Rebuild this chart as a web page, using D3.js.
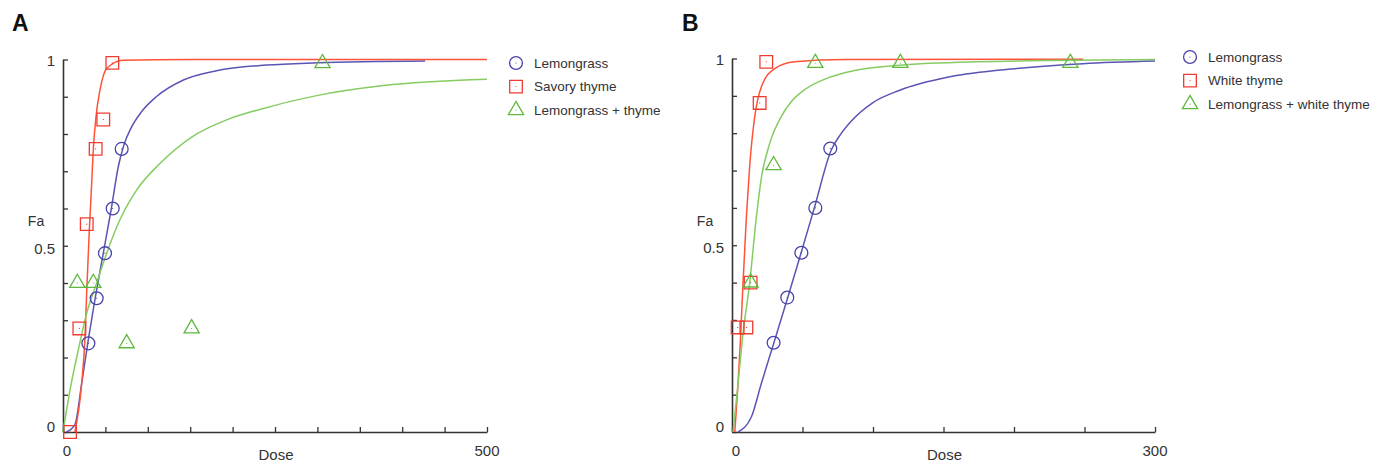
<!DOCTYPE html>
<html>
<head>
<meta charset="utf-8">
<script src="https://cdn.jsdelivr.net/npm/d3@7"></script>
<style>
  body { margin: 0; background: #fff; }
  svg { display: block; font-family: "Liberation Sans", Arial, sans-serif; }
</style>
</head>
<body>
<svg id="chart" width="1373" height="464"></svg>
<script>
// ---- data ----
// Panel A: lemongrass / savory thyme / mix
const namesA = ["Lemongrass", "Savory thyme", "Lemongrass + thyme"];
const pointsLemonA = [[29.9, 0.238], [39.7, 0.359], [49.5, 0.48], [58.6, 0.60], [69.2, 0.76]];
const pointsThymeA = [[8.3, 0], [19.3, 0.278], [28, 0.558], [38.5, 0.76], [47.5, 0.839], [58.2, 0.991]];
const pointsMixA = [[16.9, 0.40], [35.7, 0.40], [75.1, 0.238], [151.7, 0.278], [306, 0.99]];
const curveLemonA = [[4, 0], [14, 0.02], [22, 0.13], [30, 0.25], [38, 0.36], [47.5, 0.48], [57, 0.6],
  [65, 0.71], [72, 0.772], [80, 0.815], [92, 0.858], [110, 0.9], [142, 0.945], [181, 0.97], [240, 0.985], [300, 0.991], [427, 0.996]];
const curveThymeA = [[14, 0], [22, 0.13], [26, 0.256], [28, 0.38], [31, 0.54], [33.8, 0.667], [35.7, 0.757],
  [38.9, 0.846], [43.6, 0.918], [51.5, 0.976], [71, 0.998], [150, 1], [500, 1]];
const curveMixA = [[0, 0], [8.3, 0.113], [18, 0.22], [28, 0.319], [39.7, 0.4], [51.5, 0.48], [67, 0.569],
  [87, 0.65], [114, 0.72], [154, 0.795], [193, 0.838], [232, 0.866], [299, 0.903], [378, 0.93], [500, 0.947]];

// Panel B: lemongrass / white thyme / mix
const namesB = ["Lemongrass", "White thyme", "Lemongrass + white thyme"];
const pointsLemonB = [[29.5, 0.239], [39.2, 0.36], [49.2, 0.48], [59.1, 0.60], [69.7, 0.759]];
const pointsThymeB = [[4, 0.28], [10.2, 0.28], [13.2, 0.40], [19.6, 0.881], [24.3, 0.991]];
const pointsMixB = [[13.2, 0.40], [29.5, 0.714], [59.1, 0.988], [119.4, 0.988], [240, 0.988]];
const curveLemonB = [[4.3, 0], [13.7, 0.04], [20.8, 0.13], [30.3, 0.246], [39.7, 0.362], [49.2, 0.482],
  [58.6, 0.603], [70.4, 0.755], [77, 0.797], [84, 0.83], [100, 0.882], [119, 0.915], [154.6, 0.951], [202, 0.973], [249, 0.986], [300, 0.993]];
const curveThymeB = [[2, 0], [4.3, 0.13], [6.1, 0.255], [7.8, 0.398], [10.2, 0.576], [12.5, 0.71], [16.1, 0.844],
  [20.8, 0.924], [30.3, 0.973], [44.4, 0.991], [80, 0.997], [249, 0.998]];
const curveMixB = [[0.7, 0], [4.3, 0.13], [7.8, 0.264], [12.5, 0.398], [17.3, 0.576], [20.8, 0.68], [26.7, 0.772],
  [35, 0.845], [42, 0.884], [49.2, 0.91], [68, 0.948], [87, 0.968], [119, 0.982], [173.5, 0.991], [300, 0.997]];

const yTicks = d3.range(0, 1.0001, 0.1);
const yLabels = [0, 0.5, 1];

const lineColors = ["#5a55b4", "#ff5238", "#86cc62"];
const markColors = ["#4743a8", "#ef3b30", "#5fb83f"];
const markTypes = [d3.symbolCircle, d3.symbolSquare, d3.symbolTriangle];
const markSizes = [130, 160, 100];

const panels = [
  { letter: "A", names: namesA, doseMax: 500,
    points: [pointsLemonA, pointsThymeA, pointsMixA],
    curves: [curveLemonA, curveThymeA, curveMixA],
    left: 63, right: 487, top: 59.5, bottom: 432,
    letterX: 12, legX: 516, legY: 63, legGap: 23.6 },
  { letter: "B", names: namesB, doseMax: 300,
    points: [pointsLemonB, pointsThymeB, pointsMixB],
    curves: [curveLemonB, curveThymeB, curveMixB],
    left: 732, right: 1155, top: 58.5, bottom: 432,
    letterX: 682, legX: 1190, legY: 57, legGap: 23.6 }
];

const svg = d3.select("#chart");

function drawPanel(p) {
  const x = d3.scaleLinear().domain([0, p.doseMax]).range([p.left, p.right]);
  const y = d3.scaleLinear().domain([0, 1]).range([p.bottom, p.top]);
  const g = svg.append("g");

  // panel letter
  g.append("text").attr("x", p.letterX).attr("y", 31)
    .attr("font-size", 23).attr("font-weight", "bold").attr("fill", "#111")
    .text(p.letter);

  // axes, ticks pointing inside
  const xAxis = d3.axisBottom(x).tickValues(d3.range(0, p.doseMax + 1, 50))
    .tickSizeInner(-5).tickSizeOuter(0).tickFormat("");
  const yAxis = d3.axisLeft(y).tickValues(yTicks)
    .tickSizeInner(-5).tickSizeOuter(0).tickFormat("");
  [g.append("g").attr("transform", `translate(0,${p.bottom})`).call(xAxis),
   g.append("g").attr("transform", `translate(${p.left},0)`).call(yAxis)]
    .forEach(a => {
      a.select(".domain").attr("stroke", "#333").attr("stroke-width", 1.6);
      a.selectAll(".tick line").attr("stroke", "#333").attr("stroke-width", 1.3);
    });

  // tick labels
  g.selectAll(".ylab").data(yLabels).join("text")
    .attr("x", p.left - 8)
    .attr("y", d => y(d) + (d === 0 ? 0 : d === 1 ? 6 : 8))
    .attr("text-anchor", "end").attr("font-size", 15).attr("fill", "#333")
    .text(d => d);
  g.append("text").attr("x", x(0) + 4).attr("y", p.bottom + 24)
    .attr("text-anchor", "middle").attr("font-size", 15).attr("fill", "#333").text("0");
  g.append("text").attr("x", x(p.doseMax)).attr("y", p.bottom + 24)
    .attr("text-anchor", "middle").attr("font-size", 15).attr("fill", "#333").text(p.doseMax);

  // axis titles
  g.append("text").attr("x", (p.left + p.right) / 2 + 1).attr("y", p.bottom + 28)
    .attr("text-anchor", "middle").attr("font-size", 15).attr("fill", "#333").text("Dose");
  g.append("text").attr("x", p.left - 27).attr("y", 226)
    .attr("text-anchor", "middle").attr("font-size", 14).attr("fill", "#333").text("Fa");

  // fitted curves
  const line = d3.line().x(d => x(d[0])).y(d => y(d[1])).curve(d3.curveMonotoneX);
  p.curves.forEach((c, i) => {
    g.append("path").datum(c).attr("d", line)
      .attr("fill", "none").attr("stroke", lineColors[i]).attr("stroke-width", 1.5);
  });

  // data points
  p.points.forEach((pts, i) => {
    const sym = d3.symbol().type(markTypes[i]).size(markSizes[i]);
    const m = g.selectAll(null).data(pts).join("g")
      .attr("transform", d => `translate(${x(d[0])},${y(d[1])})`);
    m.append("path").attr("d", sym)
      .attr("fill", "none").attr("stroke", markColors[i]).attr("stroke-width", 1.3);
    m.append("circle").attr("r", 0.6).attr("fill", markColors[i]);
  });

  // legend
  p.names.forEach((name, i) => {
    const ly = p.legY + i * p.legGap;
    const sym = d3.symbol().type(markTypes[i]).size(markSizes[i]);
    const lg = g.append("g").attr("transform", `translate(${p.legX},${ly})`);
    lg.append("path").attr("d", sym)
      .attr("fill", "none").attr("stroke", markColors[i]).attr("stroke-width", 1.3);
    lg.append("circle").attr("r", 0.6).attr("fill", markColors[i]);
    g.append("text").attr("x", p.legX + 18).attr("y", ly + 4.5)
      .attr("font-size", 13.5).attr("fill", "#333").text(name);
  });
}

panels.forEach(drawPanel);
</script>
</body>
</html>
